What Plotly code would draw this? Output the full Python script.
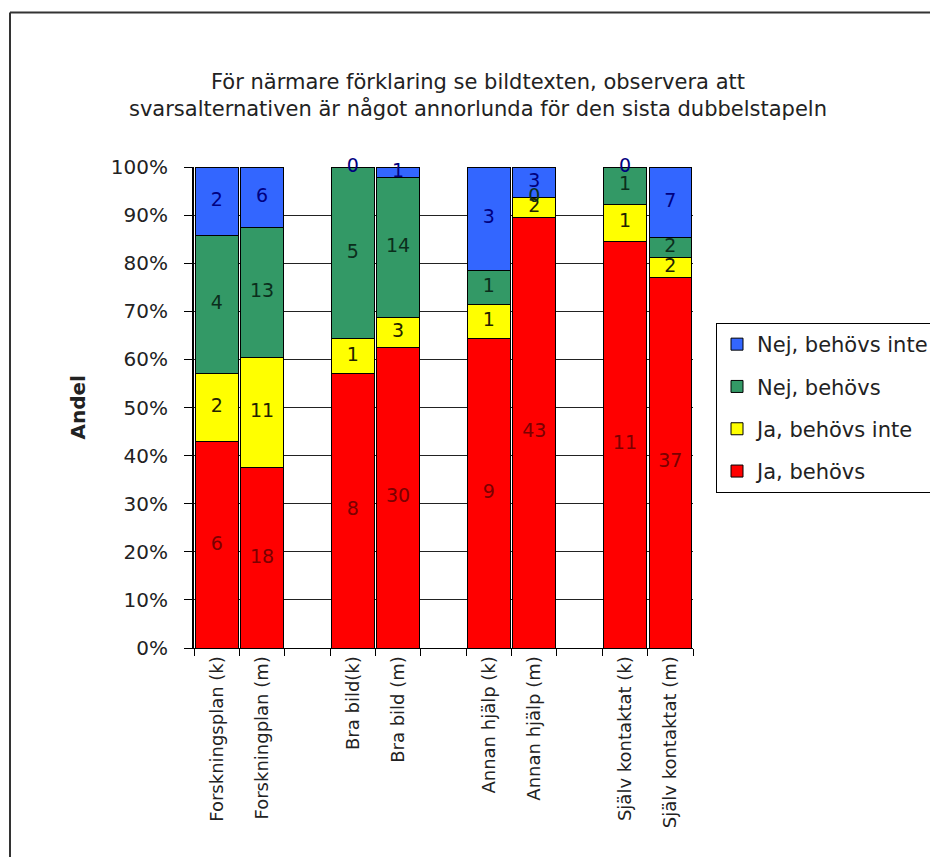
import plotly.graph_objects as go

# ---- data ----
categories = ["Forskningsplan (k)", "Forskningplan (m)", "Bra bild(k)", "Bra bild (m)",
              "Annan hjälp (k)", "Annan hjälp (m)", "Själv kontaktat (k)", "Själv kontaktat (m)"]
positions = [0, 1, 3, 4, 6, 7, 9, 10]  # blank slots between the double bars

ja_behovs = [6, 18, 8, 30, 9, 43, 11, 37]
ja_behovs_inte = [2, 11, 1, 3, 1, 2, 1, 2]
nej_behovs = [4, 13, 5, 14, 1, 0, 1, 2]
nej_behovs_inte = [2, 6, 0, 1, 3, 3, 0, 7]

series_names = ["Ja, behövs", "Ja, behövs inte", "Nej, behövs", "Nej, behövs inte"]
series_values = [ja_behovs, ja_behovs_inte, nej_behovs, nej_behovs_inte]
bar_colors = ["#FF0000", "#FFFF00", "#339966", "#3366FF"]
label_colors = ["#7a0000", "#222200", "#0b2e1c", "#000080"]

y_ticks = list(range(0, 101, 10))
y_ticktext = [f"{v}%" for v in y_ticks]

FONT = "DejaVu Sans"

fig = go.Figure()

totals = [sum(v[i] for v in series_values) for i in range(len(categories))]

for k, (name, vals, col) in enumerate(zip(series_names, series_values, bar_colors)):
    fig.add_trace(go.Bar(
        x=positions, y=vals, name=name, legendgroup=name,
        legendrank=1000 - k,
        marker=dict(color=col, line=dict(color="black", width=1)),
        hoverinfo="skip",
    ))

# labels (counts) centred in each stacked segment
cum = [0.0] * len(categories)
for vals, tcol in zip(series_values, label_colors):
    mids = []
    for i, v in enumerate(vals):
        pct = v / totals[i] * 100
        mids.append(cum[i] + pct / 2)
        cum[i] += pct
    fig.add_trace(go.Scatter(
        x=positions, y=mids, mode="text", text=[str(v) for v in vals],
        textfont=dict(family=FONT, size=19, color=tcol),
        showlegend=False, cliponaxis=False, hoverinfo="skip",
    ))

fig.update_layout(
    width=930, height=857,
    margin=dict(l=194, r=237, t=167, b=209, autoexpand=False),
    paper_bgcolor="white", plot_bgcolor="white",
    barmode="stack", barnorm="percent", bargap=0.06,
    font=dict(family=FONT, size=20, color="#222"),
    title=dict(
        text="För närmare förklaring se bildtexten, observera att<br>svarsalternativen är något annorlunda för den sista dubbelstapeln",
        x=478 / 930, xref="container", xanchor="center",
        y=1 - 89 / 857, yref="container", yanchor="middle",
        font=dict(family=FONT, size=21, color="#222"),
    ),
    legend=dict(
        x=(716 - 194) / 499, y=(648 - 323) / 481, xanchor="left", yanchor="top",
        traceorder="grouped", tracegroupgap=12, itemwidth=30,
        bgcolor="white", bordercolor="black", borderwidth=1,
        font=dict(family=FONT, size=21, color="#222"),
    ),
    showlegend=True,
)

fig.update_xaxes(
    range=[-0.5, 10.5], tickmode="array", tickvals=positions, ticktext=categories,
    tickangle=-90, ticks="", showgrid=False, zeroline=False,
    showline=True, linecolor="black", linewidth=1,
    tickfont=dict(family=FONT, size=18, color="#222"),
    minor=dict(tickmode="array", tickvals=[p - 0.5 for p in range(12)], ticks="outside",
               ticklen=7, tickcolor="black", tickwidth=1, showgrid=False),
)
fig.update_yaxes(
    range=[0, 100], tickmode="array", tickvals=y_ticks, ticktext=y_ticktext,
    ticks="outside", ticklen=8, tickcolor="black",
    showgrid=True, gridcolor="#222", gridwidth=1, zeroline=False,
    showline=True, linecolor="black", linewidth=2,
    tickfont=dict(family=FONT, size=20, color="#222"),
    ticklabelstandoff=12,
)

fig.add_annotation(
    text="<b>Andel</b>", xref="paper", yref="paper", x=(63 - 194) / 499, y=0.5,
    textangle=-90, showarrow=False, font=dict(family=FONT, size=20, color="#222"),
)

# outer chart frame (only the left and top edges fall inside the picture)
frame_left = (10 - 194) / 499
frame_top = (648 - 12.5) / 481
frame_right = (935 - 194) / 499
frame_bottom = (648 - 862) / 481
fig.add_shape(type="line", xref="paper", yref="paper",
              x0=frame_left, x1=frame_left, y0=frame_bottom, y1=frame_top,
              line=dict(color="#333", width=2), layer="above")
fig.add_shape(type="line", xref="paper", yref="paper",
              x0=frame_left, x1=frame_right, y0=frame_top, y1=frame_top,
              line=dict(color="#333", width=2), layer="above")

fig.write_html("out.html")
